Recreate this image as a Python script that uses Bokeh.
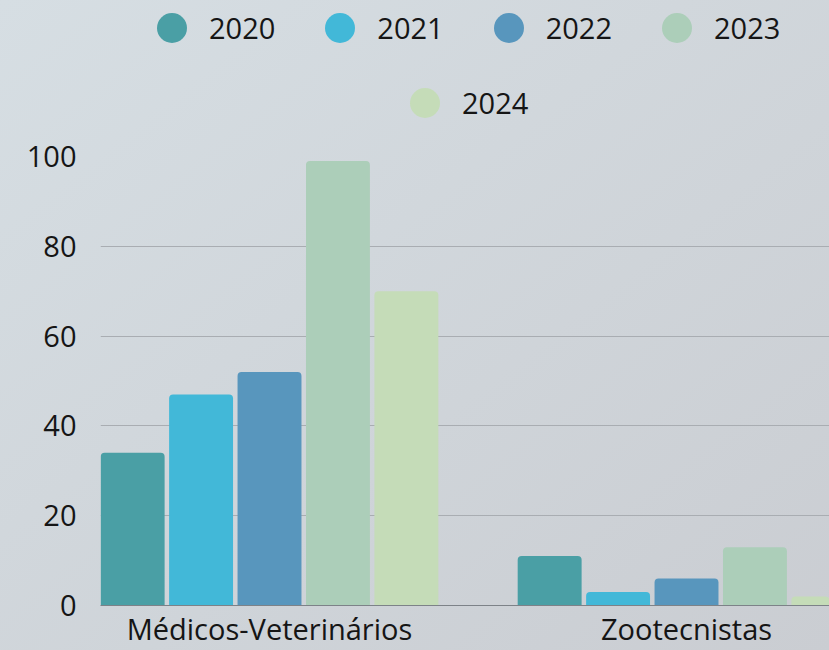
import math
from bokeh.plotting import figure
from bokeh.layouts import column
from bokeh.models import (Range1d, FixedTicker, Legend, LegendItem,
                          GlobalInlineStyleSheet)
from bokeh.embed import file_html
from bokeh.resources import INLINE

# ---- data ----
categories = ["Médicos-Veterinários", "Zootecnistas"]
years = ["2020", "2021", "2022", "2023", "2024"]
values_2020 = [34, 11]
values_2021 = [47, 3]
values_2022 = [52, 6]
values_2023 = [99, 13]
values_2024 = [70, 2]
series = [values_2020, values_2021, values_2022, values_2023, values_2024]
colors = ["#4a9fa5", "#42b8d8", "#5896bd", "#acceb9", "#c5dcb8"]
y_ticks = [0, 20, 40, 60, 80, 100]

FONT = "Open Sans"
FS = "29px"
TXT = "#151515"

# ---------------- legend strip ----------------
LH = 130
leg = figure(width=829, height=LH, output_backend="svg", toolbar_location=None,
             x_range=Range1d(0, 829), y_range=Range1d(0, LH),
             x_axis_type=None, y_axis_type=None,
             min_border=0, min_border_left=0, min_border_right=0,
             min_border_top=0, min_border_bottom=0)
leg.border_fill_color = None
leg.background_fill_color = None
leg.outline_line_color = None
leg.grid.visible = False

dummies = []
for col in colors:
    r = leg.scatter(x=[math.nan], y=[math.nan], marker="circle",
                    fill_color=col, line_color=None)
    dummies.append(r)

def make_legend(idx, loc):
    lg = Legend(items=[LegendItem(label=years[i], renderers=[dummies[i]]) for i in idx],
                location=loc, orientation="horizontal",
                glyph_width=75, glyph_height=75, label_standoff=0, spacing=27,
                padding=0, margin=0, border_line_color=None,
                background_fill_alpha=0,
                label_text_font=FONT, label_text_font_size=FS,
                label_text_color=TXT)
    leg.add_layout(lg, "center")
    return lg

make_legend([0, 1, 2, 3], (34, LH - 64.5))
make_legend([4], (287, LH - 139.5))

# ---------------- chart ----------------
p = figure(width=829, height=650 - LH, output_backend="svg", toolbar_location=None,
           x_range=Range1d(-0.4053, 1.3429), y_range=Range1d(0, 100),
           min_border_left=100, min_border_right=0, min_border_top=156 - LH,
           min_border_bottom=45)
p.border_fill_color = None
p.background_fill_color = None
p.outline_line_color = None

step = 0.1641
bar_w = 0.1533
cat_pos = list(range(len(categories)))
for i, (vals, col) in enumerate(zip(series, colors)):
    off = (i - 2) * step
    p.vbar(x=[c + off for c in cat_pos], top=vals, bottom=0, width=bar_w,
           fill_color=col, line_color=None, border_radius=(4, 4, 0, 0))

p.xaxis.ticker = FixedTicker(ticks=cat_pos)
p.xaxis.major_label_overrides = {i: c for i, c in enumerate(categories)}
p.xaxis.major_tick_line_color = None
p.xaxis.major_tick_out = 0
p.xaxis.major_tick_in = 0
p.xaxis.minor_tick_line_color = None
p.xaxis.axis_line_color = "#7d8288"
p.xaxis.major_label_standoff = 3
p.xaxis.major_label_text_font = FONT
p.xaxis.major_label_text_font_size = FS
p.xaxis.major_label_text_color = TXT

p.yaxis.ticker = FixedTicker(ticks=y_ticks)
p.yaxis.axis_line_color = None
p.yaxis.major_tick_line_color = None
p.yaxis.major_tick_out = 0
p.yaxis.major_tick_in = 0
p.yaxis.minor_tick_line_color = None
p.yaxis.major_label_standoff = 24
p.yaxis.major_label_text_font = FONT
p.yaxis.major_label_text_font_size = FS
p.yaxis.major_label_text_color = TXT

p.xgrid.grid_line_color = None
p.ygrid.grid_line_color = "#a9adb2"
p.ygrid.grid_line_width = 1

layout = column(leg, p, spacing=0)
layout.styles = {"background": "linear-gradient(to bottom right, #d6dee3, #cacdd2)"}
layout.stylesheets = [GlobalInlineStyleSheet(css="body { background: #d1d7dc; }")]

open("out.html", "w").write(file_html(layout, INLINE))
